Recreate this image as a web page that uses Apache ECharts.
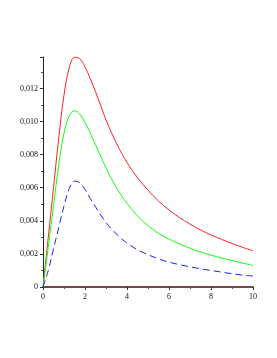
<!DOCTYPE html>
<html>
<head>
<meta charset="utf-8">
<script src="https://cdn.jsdelivr.net/npm/echarts@6/dist/echarts.min.js"></script>
<style>html,body{margin:0;padding:0;background:#fff;}#c{width:277px;height:358px;}</style>
</head>
<body>
<div id="c"></div>
<script>
var xs = [0,0.25,0.5,0.75,1,1.25,1.5,1.75,2,2.25,2.5,2.75,3,3.25,3.5,3.75,4,4.5,5,5.5,6,6.5,7,7.5,8,8.5,9,9.5,10];
var redVals = [0,3.0,6.0,9.0,11.6,13.25,13.88,13.8,13.3,12.6,11.8,10.95,10.1,9.35,8.68,8.07,7.52,6.6,5.85,5.2,4.65,4.2,3.8,3.45,3.15,2.88,2.63,2.4,2.18];
var greenVals = [0,2.4,4.9,7.4,9.3,10.35,10.65,10.45,9.95,9.3,8.6,7.9,7.2,6.57,6.0,5.5,5.05,4.3,3.7,3.25,2.9,2.6,2.35,2.12,1.93,1.75,1.6,1.45,1.3];
var blueVals = [0,1.0,2.3,3.6,4.9,5.95,6.4,6.3,5.9,5.35,4.85,4.35,3.9,3.52,3.2,2.9,2.65,2.25,1.95,1.7,1.5,1.35,1.22,1.1,1.0,0.9,0.8,0.72,0.66];
var scaleY = 0.001;
var yTickLabels = [0,0.002,0.004,0.006,0.008,0.010,0.012];
var xTickLabels = [0,2,4,6,8,10];

function pts(v){ return xs.map(function(x,i){ return [x, v[i]*scaleY]; }); }

var chart = echarts.init(document.getElementById('c'), null, {renderer:'canvas'});
var font = '"Liberation Serif", "DejaVu Serif", serif';
chart.setOption({
  animation:false,
  backgroundColor:'#ffffff',
  grid:{left:43, right:24, top:57, bottom:71, containLabel:false},
  xAxis:{
    type:'value', min:0, max:10, interval:2,
    axisLine:{show:true, onZero:false, lineStyle:{color:'#4a0808', width:1.5}},
    axisTick:{show:true, length:3, inside:false, lineStyle:{color:'#333'}},
    minorTick:{show:true, splitNumber:2, length:2, lineStyle:{color:'#555'}},
    splitLine:{show:false},
    axisLabel:{color:'#111', fontFamily:font, fontSize:8, margin:6,
      formatter:function(v){ return xTickLabels.indexOf(v)>=0 ? String(v) : ''; }}
  },
  yAxis:{
    type:'value', min:0, max:0.0139, interval:0.002,
    axisLine:{show:true, onZero:false, lineStyle:{color:'#222', width:1}},
    axisTick:{show:true, length:3, lineStyle:{color:'#333'}},
    minorTick:{show:true, splitNumber:2, length:2, lineStyle:{color:'#555'}},
    splitLine:{show:false},
    axisLabel:{color:'#111', fontFamily:font, fontSize:8, margin:5, showMaxLabel:false,
      formatter:function(v){
        for (var i=0;i<yTickLabels.length;i++){
          if (Math.abs(v-yTickLabels[i])<1e-9) return v===0 ? '0' : v.toFixed(3).replace('.', ',');
        }
        return '';
      }}
  },
  series:[
    {type:'line', data:pts(redVals), showSymbol:false, smooth:0.35,
      lineStyle:{color:'#ff2020', width:1}, z:3},
    {type:'line', data:pts(greenVals), showSymbol:false, smooth:0.35,
      lineStyle:{color:'#10ff10', width:1}, z:3},
    {type:'line', data:pts(blueVals), showSymbol:false, smooth:0.35,
      lineStyle:{color:'#2020ff', width:1, type:[7,4]}, z:3}
  ]
});
</script>
</body>
</html>
